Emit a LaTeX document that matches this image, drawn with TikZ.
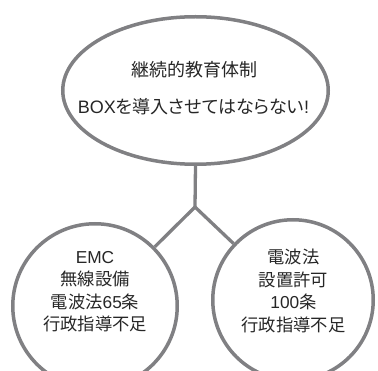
\documentclass[tikz,border=0pt]{standalone}
\usepackage{fontspec}
\setmainfont{Liberation Sans}
\newfontfamily\jp{Noto Sans CJK JP}
\newfontfamily\jpp[RawFeature=+palt]{Noto Sans CJK JP}
\usetikzlibrary{shapes.geometric}
\definecolor{linegray}{RGB}{128,128,131}
\begin{document}
\begin{tikzpicture}[x=1pt,y=1pt,
  bubble/.style={draw=linegray, line width=3.5pt, inner sep=0pt},
  link/.style={draw=linegray, line width=3.3pt},
  toptext/.style={font=\fontsize{18}{22}\selectfont, text=black!85, inner sep=0pt},
  circtext/.style={font=\fontsize{17.3}{22.5}\selectfont, text=black!85, align=center, inner sep=0pt}]
\useasboundingbox (0,0) rectangle (378,370);
% top ellipse
\node[bubble, ellipse, minimum width=265.5pt, minimum height=147.5pt] (top) at (195.5,279.5) {};
\node[toptext] (t1) at (194,300) {\jp 継続的教育体制};
\node[toptext] (t2) at (193.5,263) {BOX{\jpp を導入させてはならない}!};
% circles
\node[bubble, circle, minimum size=164.5pt] (left) at (95,64) {};
\node[bubble, circle, minimum size=160.5pt] (right) at (293,70) {};
\node[circtext] (lt) at (95,78.5) {EMC\\{\jp 無線設備}\\{\jp 電波法}65{\jp 条}\\{\jp 行政指導不足}};
\node[circtext] (rt) at (293.5,79) {{\jp 電波法}\\{\jp 設置許可}\\100{\jp 条}\\{\jp 行政指導不足}};
% connectors
\coordinate (j) at (195,163);
\draw[link] (top.south) -- (j);
\draw[link] (j) -- (left);
\draw[link] (j) -- (right);
\end{tikzpicture}
\end{document}
